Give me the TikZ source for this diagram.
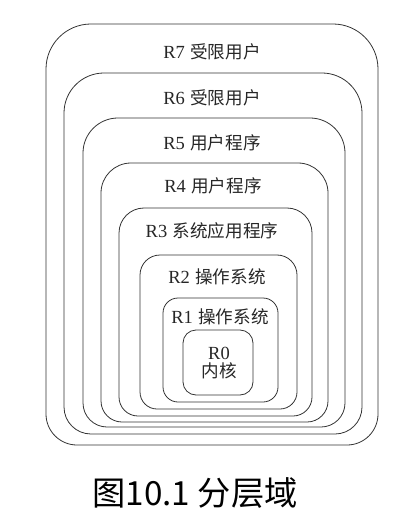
\documentclass[tikz,border=0pt]{standalone}
\usepackage{fontspec}
\setmainfont{Liberation Serif}
\newfontfamily\cjk{Noto Sans CJK SC}[Scale=0.95]
\tikzset{
  ring/.style={draw=black!80, line width=0.8pt},
  lbl/.style={inner sep=0pt, font=\fontsize{18.5}{20}\selectfont, text=black!85},
  captext/.style={inner sep=0pt, font=\cjk\fontsize{35}{38}\selectfont}
}
\newcommand{\ringbox}[7]{%
  \draw[ring] (#2,{(#3+#5)/2}) [rounded corners=#6pt] |- ({(#2+#4)/2},#3) -| (#4,{(#3+#5)/2})
     [rounded corners=#7pt] |- ({(#2+#4)/2},#5) -| cycle;
  \coordinate (#1) at ({(#2+#4)/2},{(#3+#5)/2});
}
\newcommand{\lab}[2]{#1\hspace{0.3em}{\cjk #2}}
\begin{document}
\begin{tikzpicture}[x=1pt,y=-1pt]
\useasboundingbox (0,0) rectangle (417,529);
\ringbox{r7}{46}{24}{378}{445}{45}{31}
\ringbox{r6}{64}{73}{362}{434}{40}{27}
\ringbox{r5}{83}{118}{345}{427}{35}{24}
\ringbox{r4}{101}{163}{328}{422}{30}{21}
\ringbox{r3}{119}{208}{312}{416}{25}{19}
\ringbox{r2}{140}{255}{297}{409}{20}{17}
\ringbox{r1}{163}{298}{278}{402}{15}{15}
\ringbox{r0}{183}{330}{253}{395}{13}{13}
\node[lbl] (t7) at (212,52) {\lab{R7}{受限用户}};
\node[lbl] (t6) at (212,98) {\lab{R6}{受限用户}};
\node[lbl] (t5) at (212,143) {\lab{R5}{用户程序}};
\node[lbl] (t4) at (213,186) {\lab{R4}{用户程序}};
\node[lbl] (t3) at (212,231) {\lab{R3}{系统应用程序}};
\node[lbl] (t2) at (217,277) {\lab{R2}{操作系统}};
\node[lbl] (t1) at (220,317) {\lab{R1}{操作系统}};
\node[lbl, align=center] (t0) at (219,363) {R0\\[-2pt]{\cjk 内核}};
\node[captext] (caption) at (195,493) {图10.1 分层域};
\end{tikzpicture}
\end{document}
